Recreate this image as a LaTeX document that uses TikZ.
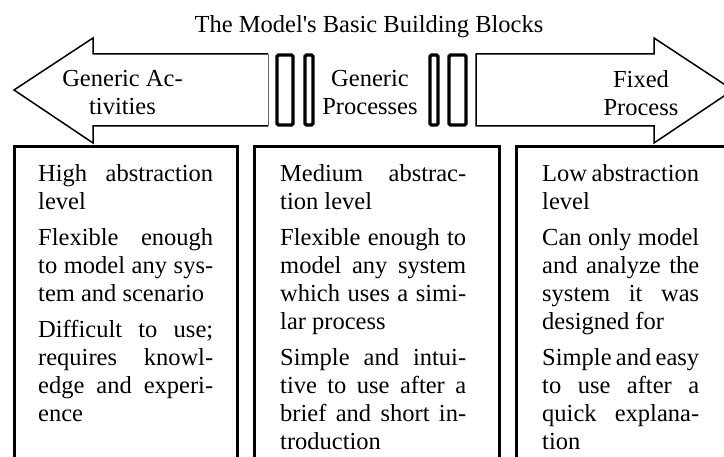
\documentclass[tikz,border=0pt]{standalone}
\usepackage{fontspec}
\setmainfont{Liberation Serif}
\newlength\mycolw
\newcommand\jline[1]{\hbox to\mycolw{#1}}
\newcommand\pline[1]{\hbox{#1}}
\newcommand\ctwo[2]{\vtop{\baselineskip=28pt\hbox to0pt{\hss#1\hss}\hbox to0pt{\hss#2\hss}}}
\tikzset{
  bigarrow/.style={draw=black, line width=1.5pt, line join=miter},
  barbox/.style={draw=black, line width=3.2pt, rounded corners=1.5pt},
  colbox/.style={draw=black, line width=3pt},
  lbl/.style={inner sep=0pt, anchor=base, font=\fontsize{24.5}{28}\selectfont},
  coltext/.style={inner sep=0pt, anchor=base west, font=\fontsize{24.5}{28}\selectfont},
}
\begin{document}
\begin{tikzpicture}[x=1pt,y=-1pt]
\useasboundingbox (0,0) rectangle (724,457);
\clip (0,0) rectangle (724,457);
\fill[white] (0,0) rectangle (724,457);

% title
\node[lbl] (title) at (369,33) {The Model\textquotesingle s Basic Building Blocks};

% left arrow
\draw[bigarrow] (268,54) -- (93,54) -- (93,38) -- (14,90) -- (93,143) -- (93,126) -- (268,126);
\draw[black!60, line width=0.8pt] (268,54) -- (268,126);
% right arrow
\draw[bigarrow] (476,54) -- (654,54) -- (654,38) -- (733,90) -- (654,143) -- (654,126) -- (476,126) -- cycle;

% bars
\draw[barbox] (277,55) rectangle (293,125);
\draw[barbox] (305,55) rectangle (313,125);
\draw[barbox] (430,55) rectangle (438,125);
\draw[barbox] (449,55) rectangle (466,125);

% arrow labels
\node[lbl] (lact) at (122.5,87) {\ctwo{Generic Ac-}{tivities}};
\node[lbl] (lproc) at (370,87) {\ctwo{Generic}{Processes}};
\node[lbl] (lfix) at (641,88) {\ctwo{Fixed}{Process}};

% column boxes
\draw[colbox] (14,480) -- (14,147) -- (237,147) -- (237,480);
\draw[colbox] (254,480) -- (254,147) -- (499,147) -- (499,480);
\draw[colbox] (516,480) -- (516,147) -- (760,147) -- (760,480);

% column texts
\node[coltext] (t1) at (38,182) {\setlength\mycolw{175pt}\vtop{\baselineskip=28pt
  \jline{High abstraction}
  \pline{level}
  \vskip8pt
  \jline{Flexible enough}
  \jline{to model any sys-}
  \pline{tem and scenario}
  \vskip8pt
  \jline{Difficult to use;}
  \jline{requires knowl-}
  \jline{edge and experi-}
  \pline{ence}}};

\node[coltext] (t2) at (280,182) {\setlength\mycolw{186pt}\vtop{\baselineskip=28pt
  \jline{Medium abstrac-}
  \pline{tion level}
  \vskip8pt
  \jline{Flexible enough to}
  \jline{model any system}
  \jline{which uses a simi-}
  \pline{lar process}
  \vskip8pt
  \jline{Simple and intui-}
  \jline{tive to use after a}
  \jline{brief and short in-}
  \pline{troduction}}};

\node[coltext] (t3) at (542,182) {\setlength\mycolw{157pt}\vtop{\baselineskip=28pt
  \jline{Low abstraction}
  \pline{level}
  \vskip8pt
  \jline{Can only model}
  \jline{and analyze the}
  \jline{system it was}
  \pline{designed for}
  \vskip8pt
  \jline{Simple and easy}
  \jline{to use after a}
  \jline{quick explana-}
  \pline{tion}}};
\end{tikzpicture}
\end{document}
